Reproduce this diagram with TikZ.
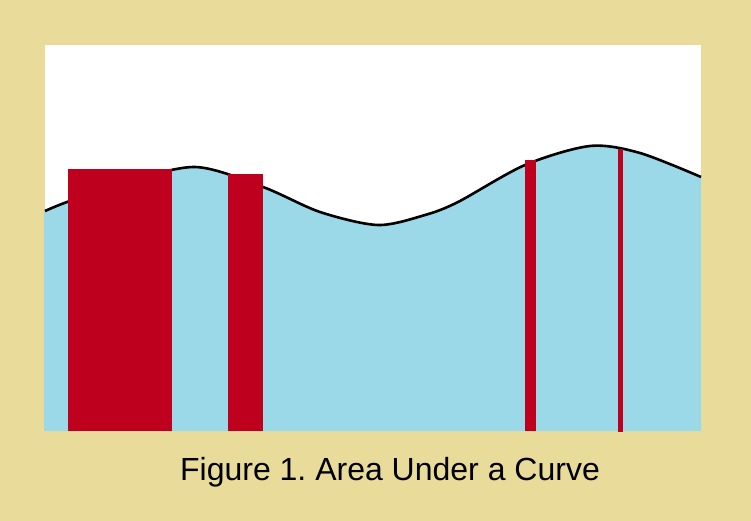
\documentclass[tikz,border=0pt]{standalone}
\usepackage{fontspec}
\setmainfont{Liberation Sans}
\definecolor{sandcolor}{RGB}{233,220,154}
\definecolor{areacolor}{RGB}{155,217,232}
\definecolor{barcolor}{RGB}{190,0,30}
\tikzset{
  bar/.style={fill=barcolor},
  curveline/.style={line width=2.6pt, line join=round}
}
\begin{document}
\begin{tikzpicture}[x=1pt,y=-1pt]

	\fill[sandcolor] (0,0) rectangle (751,521);
	\useasboundingbox (0,0) rectangle (751,521);
	\fill[white] (45,45) rectangle (701,431);

	% area under the curve
	\fill[areacolor] (44,431) -- (44,211) -- plot[smooth] coordinates {(45,211) (67,202) (120,184) (195,167) (263,187) (320,212) (378,225) (425,215) (458,202) (525,165) (590,146) (640,153) (701,177)} -- (701,431) -- cycle;
	\draw[curveline] plot[smooth] coordinates {(45,211) (67,202) (120,184) (195,167) (263,187) (320,212) (378,225) (425,215) (458,202) (525,165) (590,146) (640,153) (701,177)};

	% rectangles
	\fill[bar] (68,169) rectangle (172,431);
	\fill[bar] (228,174) rectangle (263,431);
	\fill[bar] (525,160) rectangle (536,431);
	\fill[bar] (618,149) rectangle (623,432);

	\node[font=\fontsize{32}{36}\selectfont, anchor=base] (caption) at (390,480) {\frenchspacing Figure 1. Area Under a Curve};

\end{tikzpicture}
\end{document}
